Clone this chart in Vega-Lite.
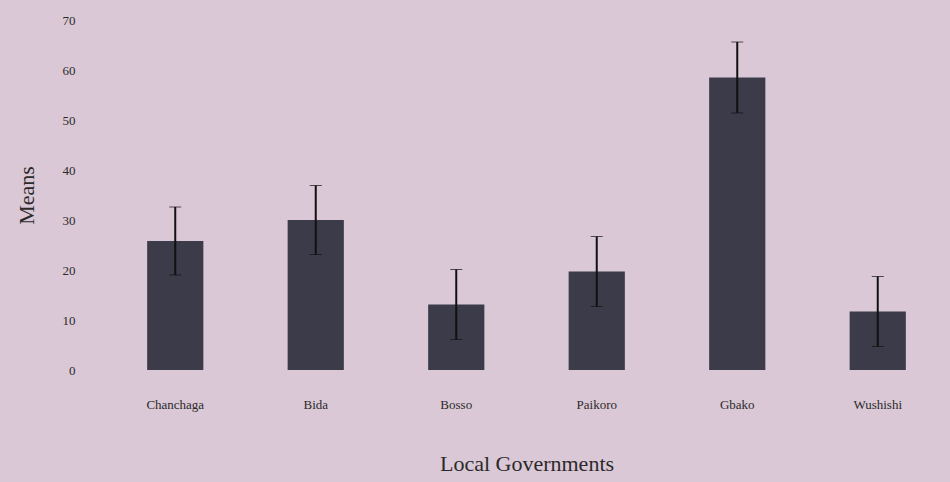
{
  "$schema": "https://vega.github.io/schema/vega-lite/v6.json",
  "autosize": {"type": "none"},
  "width": 843,
  "height": 350,
  "padding": {"left": 105, "top": 20, "right": 2, "bottom": 112},
  "background": "#dac8d6",
  "config": {
    "view": {"stroke": null},
    "font": "Liberation Serif"
  },
  "data": {
    "values": [
      {"lga": "Chanchaga", "mean": 25.8, "err": 6.8},
      {"lga": "Bida", "mean": 30.0, "err": 6.9},
      {"lga": "Bosso", "mean": 13.1, "err": 7.0},
      {"lga": "Paikoro", "mean": 19.7, "err": 7.0},
      {"lga": "Gbako", "mean": 58.5, "err": 7.1},
      {"lga": "Wushishi", "mean": 11.7, "err": 7.0}
    ]
  },
  "encoding": {
    "x": {
      "field": "lga",
      "type": "nominal",
      "sort": null,
      "scale": {"paddingInner": 0.6, "paddingOuter": 0.3},
      "axis": {
        "title": "Local Governments",
        "labelAngle": 0,
        "labelFontSize": 13,
        "labelColor": "#2a2a2a",
        "labelPadding": 28,
        "ticks": false,
        "domain": false,
        "titleFontSize": 22,
        "titleFontWeight": "normal",
        "titleColor": "#2a2a2a",
        "titlePadding": 42
      }
    }
  },
  "layer": [
    {
      "mark": {"type": "bar", "color": "#3b3b4a"},
      "encoding": {
        "y": {
          "field": "mean",
          "type": "quantitative",
          "title": "Means",
          "scale": {"domain": [0, 70]},
          "axis": {
            "title": "Means",
            "values": [0, 10, 20, 30, 40, 50, 60, 70],
            "grid": false,
            "ticks": false,
            "domain": false,
            "labelFontSize": 13,
            "labelColor": "#2a2a2a",
            "labelPadding": 30,
            "titleFontSize": 22,
            "titleFontWeight": "normal",
            "titleColor": "#2a2a2a",
            "titlePadding": 24
          }
        }
      }
    },
    {
      "mark": {"type": "errorbar", "ticks": {"size": 12, "color": "#111111", "strokeWidth": 2}, "rule": {"color": "#111111", "strokeWidth": 2}},
      "encoding": {
        "y": {"field": "mean", "type": "quantitative", "title": "Means"},
        "yError": {"field": "err"}
      }
    }
  ]
}
